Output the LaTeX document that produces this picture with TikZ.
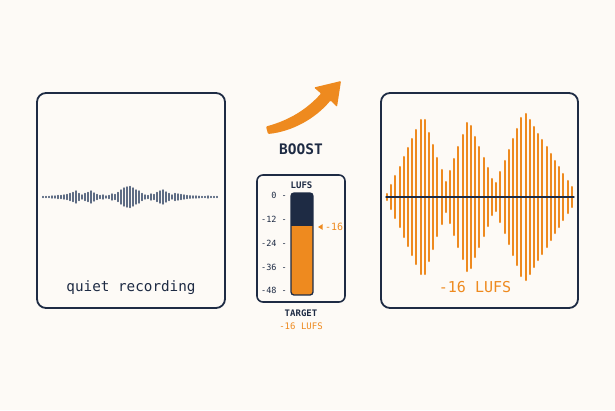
\documentclass[tikz,border=0pt]{standalone}
\usepackage{fontspec}
\usetikzlibrary{calc}
\setmainfont{DejaVu Sans Mono}
\definecolor{navy}{HTML}{1E2B44}
\definecolor{boost}{HTML}{EE8A1F}
\definecolor{paper}{HTML}{FDFAF6}
\definecolor{quiet}{HTML}{5E6C84}
\tikzset{
	panel/.style={draw=navy,line width=1.8pt,rounded corners=9pt,fill=paper},
	tick/.style={navy,inner sep=0pt,anchor=east,font=\fontsize{8.5}{9}\selectfont},
	small/.style={inner sep=0pt,font=\fontsize{9}{10}\selectfont}
}
\begin{document}
\begin{tikzpicture}[x=1pt,y=-1pt, line join=round, line cap=round]
		\fill[paper] (0,0) rectangle (615,410);
		\path%corners of the panels and of the meter
		(37,93) coordinate (L1) (225,308) coordinate (L2)
		(381,93) coordinate (R1) (578,308) coordinate (R2)
		(257,175) coordinate (M1) (345,302) coordinate (M2)
		(291,193) coordinate (B1) (313,295) coordinate (B2) (313,226) coordinate (B0)
		(43,197) coordinate (W1) (387,197) coordinate (W2)
		;
		\draw[panel] (L1) rectangle (L2) (R1) rectangle (R2);
		\draw[panel,line width=1.6pt,rounded corners=6pt] (M1) rectangle (M2);
		%quiet wave
		\foreach \a [count=\i from 0] in {.5,.5,.5,1,1,1.5,1.5,2,2.5,3.5,4.5,6,3.5,2,3.5,4.5,6,4,2.5,1.5,2,1,1.5,3,2.5,4.5,7,9,10,10.5,9,7,6,3.5,2,1.5,3,2.5,4.5,6,7,5,3.5,2,3.5,3,2.5,2,1.5,1.2,1,1,.8,.5,.5,1,.5,.5,.5}
		\draw[quiet,line width=1.4pt] ($(W1)+(3*\i,-\a)$)--++(0,2*\a);
		%loud wave
		\foreach \a [count=\i from 0] in {3,12,21,30,40,49,58,67,77,77,64,52,39,27,15,26,38,50,62,74,71,60,50,39,29,18,14,25,36,47,58,68,79,83,77,70,63,57,50,43,36,30,23,16,10}
		\draw[boost,line width=2.1pt] ($(W2)+(4.2*\i,-\a)$)--++(0,2*\a);
		\draw[navy,line width=1.4pt] ($(W2)+(-1,0)$)--++(188,0);
		%meter
		\begin{scope}
			\clip[rounded corners=3pt] (B1) rectangle (B2);
			\fill[boost] (B1) rectangle (B2);
			\fill[navy] (B1) rectangle (B0);
		\end{scope}
		\draw[navy,line width=1.3pt,rounded corners=3pt] (B1) rectangle (B2);
		\foreach \v/\y [count=\i] in {0/195,-12/219,-24/243,-36/267,-48/290}
		\node[tick] (t\i) at (287,\y) {\v\ -};
		\fill[boost] (318,227)--++(4.5,-2.8)--++(0,5.6)--cycle;
		\node[small,boost,anchor=west,font=\fontsize{10}{11}\selectfont] (mk) at (325,227) {-16};
		\node[small,navy,font=\bfseries\fontsize{9}{10}\selectfont] (lufs) at (301.5,185) {LUFS};
		\node[small,navy,font=\bfseries\fontsize{9}{10}\selectfont] (tg) at (301,313) {TARGET};
		\node[small,boost] (tl) at (301,326) {-16 LUFS};
		%labels
		\node[navy,font=\fontsize{14.3}{16}\selectfont] (qr) at (131,288) {quiet recording};
		\node[boost,font=\fontsize{15}{17}\selectfont] (lv) at (475,287.5) {-16 LUFS};
		\node[navy,font=\bfseries\fontsize{14.5}{16}\selectfont] (bst) at (301,149.5) {BOOST};
		%arrow
		\fill[boost,rounded corners=1pt] (266,126.5) .. controls (290,120) and (307,109) .. (321,93.5)--(314,87.5)--(341,81)--(337,107)--(330.5,100.5) .. controls (315,119) and (292,131.5) .. (268,134)--cycle;
\end{tikzpicture}
\end{document}
